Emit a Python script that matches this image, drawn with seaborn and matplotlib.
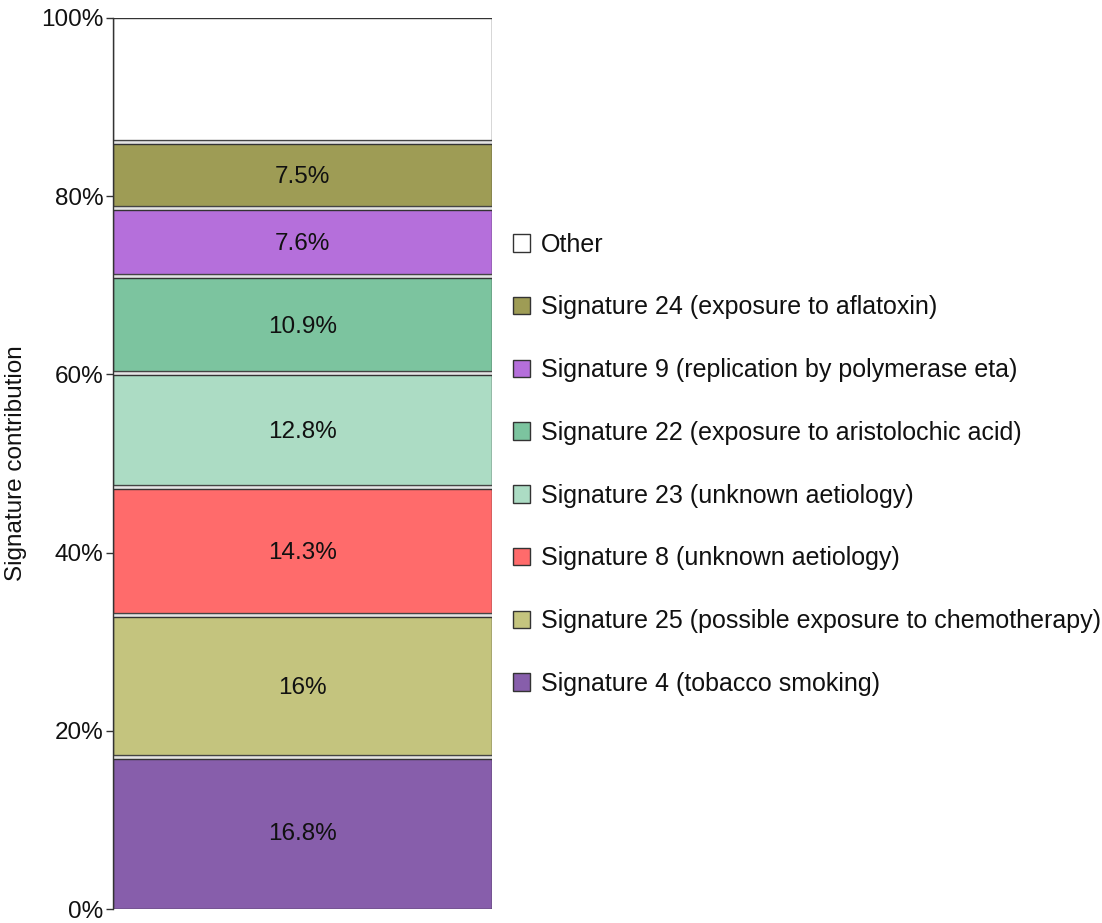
import numpy as np
import pandas as pd
import matplotlib
matplotlib.use("Agg")
import matplotlib.pyplot as plt
import matplotlib.patheffects as pe
from matplotlib.patches import Patch
import seaborn as sns

# Signature contributions, stacked from the bottom up
signatures = [
    "Signature 4 (tobacco smoking)",
    "Signature 25 (possible exposure to chemotherapy)",
    "Signature 8 (unknown aetiology)",
    "Signature 23 (unknown aetiology)",
    "Signature 22 (exposure to aristolochic acid)",
    "Signature 9 (replication by polymerase eta)",
    "Signature 24 (exposure to aflatoxin)",
    "Other",
]
contributions = [16.8, 16.0, 14.3, 12.8, 10.9, 7.6, 7.5, 14.1]
colors = ["#875eab", "#c4c47e", "#ff6b6b", "#acdcc4",
          "#7cc49f", "#b56fdb", "#9e9c55", "#ffffff"]

sns.set_theme(style="white")
plt.rcParams["font.family"] = ["Liberation Sans", "DejaVu Sans"]

df = pd.DataFrame({"signature": signatures, "value": contributions,
                   "color": colors})
df["top"] = df["value"].cumsum()
df["bottom"] = df["top"] - df["value"]
df["sample"] = "all"

fig = plt.figure(figsize=(11.02, 9.23), dpi=100)
ax = fig.add_axes([113 / 1102, 1 - 909 / 923, (492 - 113) / 1102, (909 - 18) / 923])

# Outline each segment with a thin light gap so neighbours stay distinct
segment_outline = [pe.Stroke(linewidth=6, foreground="#444444"),
                   pe.Stroke(linewidth=4, foreground="#e4e4e4"),
                   pe.Normal()]

# Layer cumulative bars from the tallest down so each segment shows
for i in range(len(df) - 1, -1, -1):
    row = df.iloc[[i]]
    n_before = len(ax.patches)
    sns.barplot(data=row, x="sample", y="top", color=row["color"].iloc[0],
                saturation=1, width=1.0, edgecolor="#333333", linewidth=1.0,
                ax=ax, errorbar=None)
    for p in ax.patches[n_before:]:
        p.set_path_effects(segment_outline)

for _, r in df.iterrows():
    if r["signature"] != "Other":
        ax.text(0, (r["bottom"] + r["top"]) / 2, f"{r['value']:g}%",
                ha="center", va="center", fontsize=17.5, color="#111111")

ax.set_xlim(-0.5, 0.5)
ax.set_ylim(0, 100)
ax.set_yticks([0, 20, 40, 60, 80, 100])
ax.set_yticklabels([f"{t}%" for t in [0, 20, 40, 60, 80, 100]])
ax.set_xticks([])
ax.set_xlabel("")
ax.set_ylabel("Signature contribution", fontsize=17.5, labelpad=10,
              color="#111111")
ax.tick_params(axis="y", labelsize=17.5, length=5, width=1, color="#333333",
               left=True, pad=2, labelcolor="#111111")
for side in ["top", "right", "bottom"]:
    ax.spines[side].set_visible(False)
ax.spines["left"].set_color("#333333")
ax.spines["left"].set_linewidth(1)

handles = [Patch(facecolor=c, edgecolor="#333333", linewidth=1, label=s)
           for s, c in zip(signatures, colors)][::-1]
fig.legend(handles=handles, loc="upper left",
           bbox_to_anchor=(500 / 1102, 1 - 220 / 923), frameon=False,
           fontsize=18, handlelength=0.7, handleheight=0.7,
           handletextpad=0.45, labelspacing=1.55, borderpad=0,
           labelcolor="#111111")

fig.savefig("out.png", dpi=100, facecolor="white")
